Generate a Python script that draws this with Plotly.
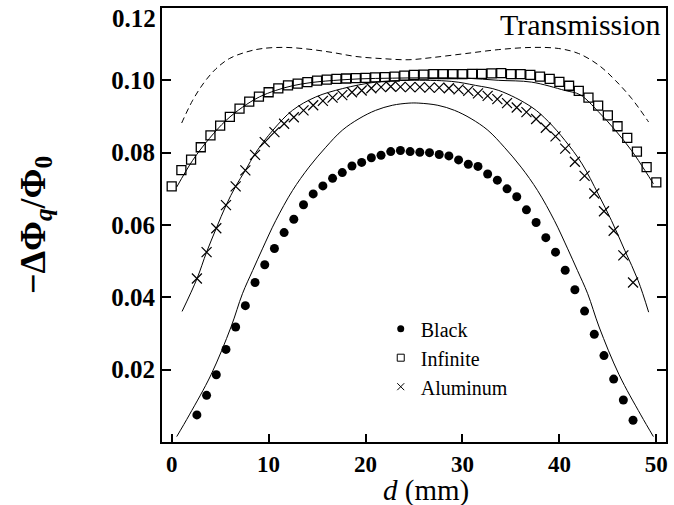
import plotly.graph_objects as go

# Measurement positions (mm)
d_sq = [0, 1, 2, 3, 4, 5, 6, 7, 8, 9, 10, 11, 12, 13, 14, 15, 16, 17, 18, 19,
        20, 21, 22, 23, 24, 25, 26, 27, 28, 29, 30, 31, 32, 33, 34, 35, 36, 37, 38, 39,
        40, 41, 42, 43, 44, 45, 46, 47, 48, 49, 50]
d_pt = [2.6, 3.6, 4.6, 5.6, 6.6, 7.6, 8.6, 9.6, 10.6, 11.6, 12.6, 13.6, 14.6, 15.6,
        16.6, 17.6, 18.6, 19.6, 20.6, 21.6, 22.6, 23.6, 24.6, 25.6, 26.6, 27.6, 28.6,
        29.6, 30.6, 31.6, 32.6, 33.6, 34.6, 35.6, 36.6, 37.6, 38.6, 39.6, 40.6, 41.6,
        42.6, 43.6, 44.6, 45.6, 46.6, 47.6]

# Measured -dPhi_q/Phi_0
black = [0.0075, 0.0129, 0.0186, 0.0256, 0.0318, 0.0377, 0.0441, 0.0490, 0.0535, 0.0579,
         0.0616, 0.0656, 0.0686, 0.0708, 0.0729, 0.0745, 0.0763, 0.0773, 0.0786, 0.0793,
         0.0803, 0.0806, 0.0803, 0.0801, 0.0800, 0.0795, 0.0791, 0.0780, 0.0768, 0.0762,
         0.0741, 0.0724, 0.0700, 0.0678, 0.0642, 0.0607, 0.0565, 0.0525, 0.0475, 0.0421,
         0.0362, 0.0298, 0.0239, 0.0174, 0.0116, 0.0060]
infinite = [0.0707, 0.0752, 0.0781, 0.0815, 0.0848, 0.0875, 0.0899, 0.0922, 0.0941, 0.0955,
            0.0967, 0.0978, 0.0986, 0.0991, 0.0995, 0.0999, 0.1002, 0.1004, 0.1005, 0.1006,
            0.1007, 0.1008, 0.1009, 0.1010, 0.1013, 0.1015, 0.1016, 0.1017, 0.1017, 0.1017,
            0.1017, 0.1018, 0.1018, 0.1019, 0.1020, 0.1017, 0.1017, 0.1015, 0.1010, 0.1004,
            0.0996, 0.0985, 0.0971, 0.0952, 0.0930, 0.0903, 0.0873, 0.0841, 0.0803, 0.0760,
            0.0718]
aluminum = [0.0452, 0.0525, 0.0591, 0.0655, 0.0707, 0.0751, 0.0794, 0.0829, 0.0857, 0.0880,
            0.0898, 0.0917, 0.0931, 0.0943, 0.0952, 0.0959, 0.0967, 0.0972, 0.0978, 0.0981,
            0.0983, 0.0982, 0.0981, 0.0981, 0.0980, 0.0980, 0.0978, 0.0975, 0.0971, 0.0964,
            0.0957, 0.0948, 0.0937, 0.0925, 0.0912, 0.0893, 0.0869, 0.0845, 0.0811, 0.0775,
            0.0736, 0.0687, 0.0638, 0.0584, 0.0516, 0.0441]

# Model curves (d, value)
dash_d = [1.03, 2.17, 3.37, 4.57, 5.94, 7.66, 9.37, 11.78, 14.17, 16.58, 18.99, 21.73,
          24.48, 26.88, 30.32, 33.75, 37.19, 39.93, 41.99, 44.05, 45.77, 47.48, 49.20]
dash_v = [0.0882, 0.0945, 0.0995, 0.1032, 0.1060, 0.1078, 0.1088, 0.1091, 0.1086, 0.1077,
          0.1066, 0.1060, 0.1057, 0.1063, 0.1074, 0.1085, 0.1091, 0.1088, 0.1074, 0.1042,
          0.1000, 0.0949, 0.0885]
inf_d = [0.52, 2.17, 3.88, 5.60, 7.32, 9.04, 10.73, 12.46, 14.17, 15.90, 19.33, 22.76,
         26.44, 30.36, 33.75, 37.14, 40.57, 42.14, 44.00, 45.77, 47.44, 48.82, 49.70]
inf_v = [0.0705, 0.0779, 0.0839, 0.0889, 0.0926, 0.0954, 0.0972, 0.0985, 0.0993, 0.0998,
         0.1004, 0.1006, 0.1007, 0.1006, 0.1000, 0.0995, 0.0972, 0.0960, 0.0914, 0.0862,
         0.0806, 0.0751, 0.0714]
al_d = [1.07, 2.6, 3.6, 4.6, 5.6, 6.6, 7.6, 8.67, 10.44, 12.46, 14.86, 17.60, 21.04,
        24.48, 28.89, 31.35, 33.75, 37.14, 38.90, 40.57, 42.34, 44.00, 45.38, 46.76,
        48.13, 49.21]
al_v = [0.0361, 0.0451, 0.0525, 0.0591, 0.0654, 0.0707, 0.0751, 0.0800, 0.0862, 0.0917,
        0.0954, 0.0977, 0.0995, 0.1000, 0.0997, 0.0986, 0.0972, 0.0926, 0.0885, 0.0834,
        0.0769, 0.0686, 0.0612, 0.0529, 0.0446, 0.0359]
bl_d = [0.52, 1.82, 4.06, 6.12, 7.30, 8.35, 9.36, 10.73, 12.46, 14.17, 15.90, 17.60,
        19.33, 21.04, 22.76, 24.48, 25.50, 27.46, 29.18, 30.89, 32.62, 34.32, 36.05,
        37.76, 39.49, 40.86, 41.87, 42.92, 44.10, 46.16, 48.40, 49.70]
bl_v = [0.0015, 0.0075, 0.0186, 0.0318, 0.0410, 0.0474, 0.0534, 0.0612, 0.0695, 0.0760,
        0.0815, 0.0862, 0.0894, 0.0917, 0.0931, 0.0937, 0.0937, 0.0931, 0.0917, 0.0894,
        0.0862, 0.0815, 0.0760, 0.0695, 0.0612, 0.0534, 0.0474, 0.0410, 0.0318, 0.0186,
        0.0075, 0.0015]

x_ticks = [0, 10, 20, 30, 40, 50]
y_ticks = [0.02, 0.04, 0.06, 0.08, 0.10]
y_labels = ["0.02", "0.04", "0.06", "0.08", "0.10"]

SERIF = "Liberation Serif, serif"
INK = "black"

fig = go.Figure()

line_style = dict(color=INK, width=1)
fig.add_trace(go.Scatter(x=dash_d, y=dash_v, mode="lines", line_shape="spline",
                         line=dict(color=INK, width=1, dash="6px,4px"), showlegend=False))
fig.add_trace(go.Scatter(x=inf_d, y=inf_v, mode="lines", line_shape="spline",
                         line=line_style, showlegend=False))
fig.add_trace(go.Scatter(x=al_d, y=al_v, mode="lines", line_shape="spline",
                         line=line_style, showlegend=False))
fig.add_trace(go.Scatter(x=bl_d, y=bl_v, mode="lines", line_shape="spline",
                         line=line_style, showlegend=False))

fig.add_trace(go.Scatter(x=d_pt, y=black, mode="markers", showlegend=False,
                         marker=dict(symbol="circle", size=9, color=INK)))
fig.add_trace(go.Scatter(x=d_sq, y=infinite, mode="markers", showlegend=False,
                         marker=dict(symbol="square-open", size=9, color=INK,
                                     line=dict(width=1.3, color=INK))))
fig.add_trace(go.Scatter(x=d_pt, y=aluminum, mode="markers", showlegend=False,
                         marker=dict(symbol="x-thin-open", size=10, color=INK,
                                     line=dict(width=1.2, color=INK))))

# Legend entries with smaller symbols
legend_items = [("Black", dict(symbol="circle", size=7, color=INK)),
                ("Infinite", dict(symbol="square-open", size=7, color=INK,
                                  line=dict(width=1, color=INK))),
                ("Aluminum", dict(symbol="x-thin-open", size=7, color=INK,
                                  line=dict(width=1, color=INK)))]
for name, mk in legend_items:
    fig.add_trace(go.Scatter(x=[None], y=[None], mode="markers", name=name,
                             legendgroup=name, marker=mk))

fig.update_layout(
    width=674, height=505,
    margin=dict(l=162, r=6, t=8, b=63),
    paper_bgcolor="white", plot_bgcolor="white",
    legend=dict(x=0.434, y=0.306, xanchor="left", yanchor="top",
                bgcolor="rgba(0,0,0,0)", borderwidth=0, tracegroupgap=0,
                font=dict(family=SERIF, size=20, color=INK)),
    xaxis=dict(range=[-1, 51], tickvals=x_ticks, ticks="inside", ticklen=8,
               tickwidth=1.5, tickcolor=INK, showline=True, linewidth=2,
               linecolor=INK, mirror=True, showgrid=False, zeroline=False,
               tickfont=dict(family=SERIF, size=23, color=INK, weight="bold")),
    yaxis=dict(range=[0, 0.12], tickvals=y_ticks, ticktext=y_labels, ticks="inside",
               ticklen=9, tickwidth=1.5, tickcolor=INK, showline=True, linewidth=2,
               linecolor=INK, mirror="ticks", showgrid=False, zeroline=False,
               tickfont=dict(family=SERIF, size=25, color=INK, weight="bold"),
               title=dict(text="<b>−ΔΦ<sub><i>q</i></sub>/Φ<sub>0</sub></b>", standoff=55,
                          font=dict(family=SERIF, size=36, color=INK))),
    annotations=[
        dict(text="0.12", x=0, xref="paper", y=0.12, yref="y", xanchor="right",
             yanchor="middle", xshift=-4, yshift=-10, showarrow=False,
             font=dict(family=SERIF, size=25, color=INK, weight="bold")),
        dict(text="Transmission", x=1, xref="paper", y=1, yref="paper",
             xanchor="right", yanchor="top", xshift=-3, yshift=2, showarrow=False,
             font=dict(family=SERIF, size=30, color=INK)),
        dict(text="<i>d</i> (mm)", x=0.524, xref="paper", y=-0.1107, yref="paper",
             xanchor="center", yanchor="middle", showarrow=False,
             font=dict(family=SERIF, size=29, color=INK)),
    ],
)

fig.write_html("out.html")
